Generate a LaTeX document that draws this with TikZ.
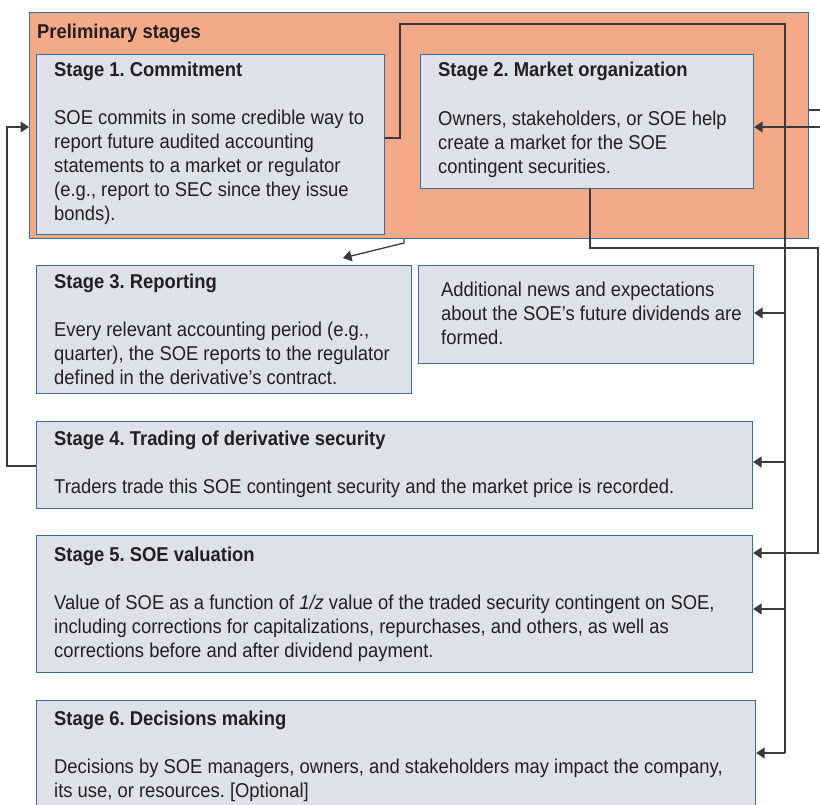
\documentclass[tikz,border=0pt]{standalone}
\usepackage{fontspec}
\setmainfont{Liberation Sans}[FakeStretch=0.92]
\usetikzlibrary{arrows.meta}
\definecolor{boxfill}{HTML}{DFE1EA}
\definecolor{boxedge}{HTML}{3A6E9A}
\definecolor{prelim}{HTML}{F4AA89}
\definecolor{linec}{HTML}{3A3A3A}
\definecolor{txt}{HTML}{231F20}
\frenchspacing
% lines of a text block, the first line on the node's baseline
\newcommand{\textlines}[1]{\begin{tabular}[t]{@{}l@{}}#1\end{tabular}}
\begin{document}
\begin{tikzpicture}[x=1pt,y=-1pt,
  box/.style={draw=boxedge, fill=boxfill, line width=1.2pt, anchor=north west, inner sep=0pt},
  prebox/.style={draw=boxedge, fill=prelim, line width=1.2pt, anchor=north west, inner sep=0pt},
  title/.style={font=\fontsize{20}{24}\selectfont\bfseries, text=txt, anchor=base west, inner sep=0pt},
  body/.style={font=\fontsize{20}{24}\selectfont, text=txt, anchor=base west, inner sep=0pt},
  conn/.style={draw=linec, line width=1.3pt},
  arr/.style={conn, -{Triangle[length=8.5pt,width=11pt]}}]
\useasboundingbox (0,0) rectangle (820,805);

% frame around the preliminary stages
\node[prebox, minimum width=779pt, minimum height=226pt] (pre) at (29,12) {};
\node[title] (pretitle) at (37,39) {Preliminary stages};

% stage boxes
\node[box, minimum width=348pt, minimum height=180pt] (s1) at (36,54) {};
\node[box, minimum width=333pt, minimum height=134pt] (s2) at (420,54) {};
\node[box, minimum width=375pt, minimum height=128pt] (s3) at (36,265) {};
\node[box, minimum width=335pt, minimum height=98pt] (news) at (418,265) {};
\node[box, minimum width=716pt, minimum height=87pt] (s4) at (36,421) {};
\node[box, minimum width=716pt, minimum height=137pt] (s5) at (36,535) {};
\node[box, minimum width=719pt, minimum height=120pt] (s6) at (36,700) {};

% texts
\node[title] (t1) at (54,77) {Stage 1. Commitment};
\node[body] (b1) at (54,125) {\textlines{SOE commits in some credible way to\\report future audited accounting\\statements to a market or regulator\\(e.g., report to SEC since they issue\\bonds).}};
\node[title] (t2) at (438,77) {Stage 2. Market organization};
\node[body] (b2) at (438,126) {\textlines{Owners, stakeholders, or SOE help\\create a market for the SOE\\contingent securities.}};
\node[title] (t3) at (54,289) {Stage 3. Reporting};
\node[body] (b3) at (54,337) {\textlines{Every relevant accounting period (e.g.,\\quarter), the SOE reports to the regulator\\defined in the derivative’s contract.}};
\node[body] (bn) at (441,297) {\textlines{Additional news and expectations\\about the SOE’s future dividends are\\formed.}};
\node[title] (t4) at (54,445) {Stage 4. Trading of derivative security};
\node[body] (b4) at (54,493) {Traders trade this SOE contingent security and the market price is recorded.};
\node[title] (t5) at (54,561) {Stage 5. SOE valuation};
\node[body] (b5) at (54,609) {\textlines{Value of SOE as a function of \textit{1/z} value of the traded security contingent on SOE,\\including corrections for capitalizations, repurchases, and others, as well as\\corrections before and after dividend payment.}};
\node[title] (t6) at (54,725) {Stage 6. Decisions making};
\node[body] (b6) at (54,773) {\textlines{Decisions by SOE managers, owners, and stakeholders may impact the company,\\its use, or resources. [Optional]}};

% connectors
\coordinate (edgeA) at (820,110);
\coordinate (edgeB) at (820,127);
\coordinate (toS3) at (343,258);

\draw[conn] (s1.east |- 0,138) -- (400,138) -- (400,24) -- (785,24) -- (785,753);
\draw[arr] (785,753) -- (s6.east |- 0,753);
\draw[arr] (785,313) -- (news.east |- 0,313);
\draw[arr] (785,462) -- (s4.east |- 0,462);
\draw[arr] (785,609) -- (s5.east |- 0,609);

\draw[arr] (s2.south -| 590,0) -- (590,248) -- (818,248) -- (818,553) -- (s5.east |- 0,553);

\draw[conn] (pre.east |- 0,110) -- (edgeA);
\draw[arr] (edgeB) -- (s2.east |- 0,127);

\draw[arr] (pre.south -| 404,0) -- (404,243) -- (toS3);

\draw[arr] (s4.west |- 0,466) -- (7,466) -- (7,127) -- (pre.west |- 0,127);
\end{tikzpicture}
\end{document}
